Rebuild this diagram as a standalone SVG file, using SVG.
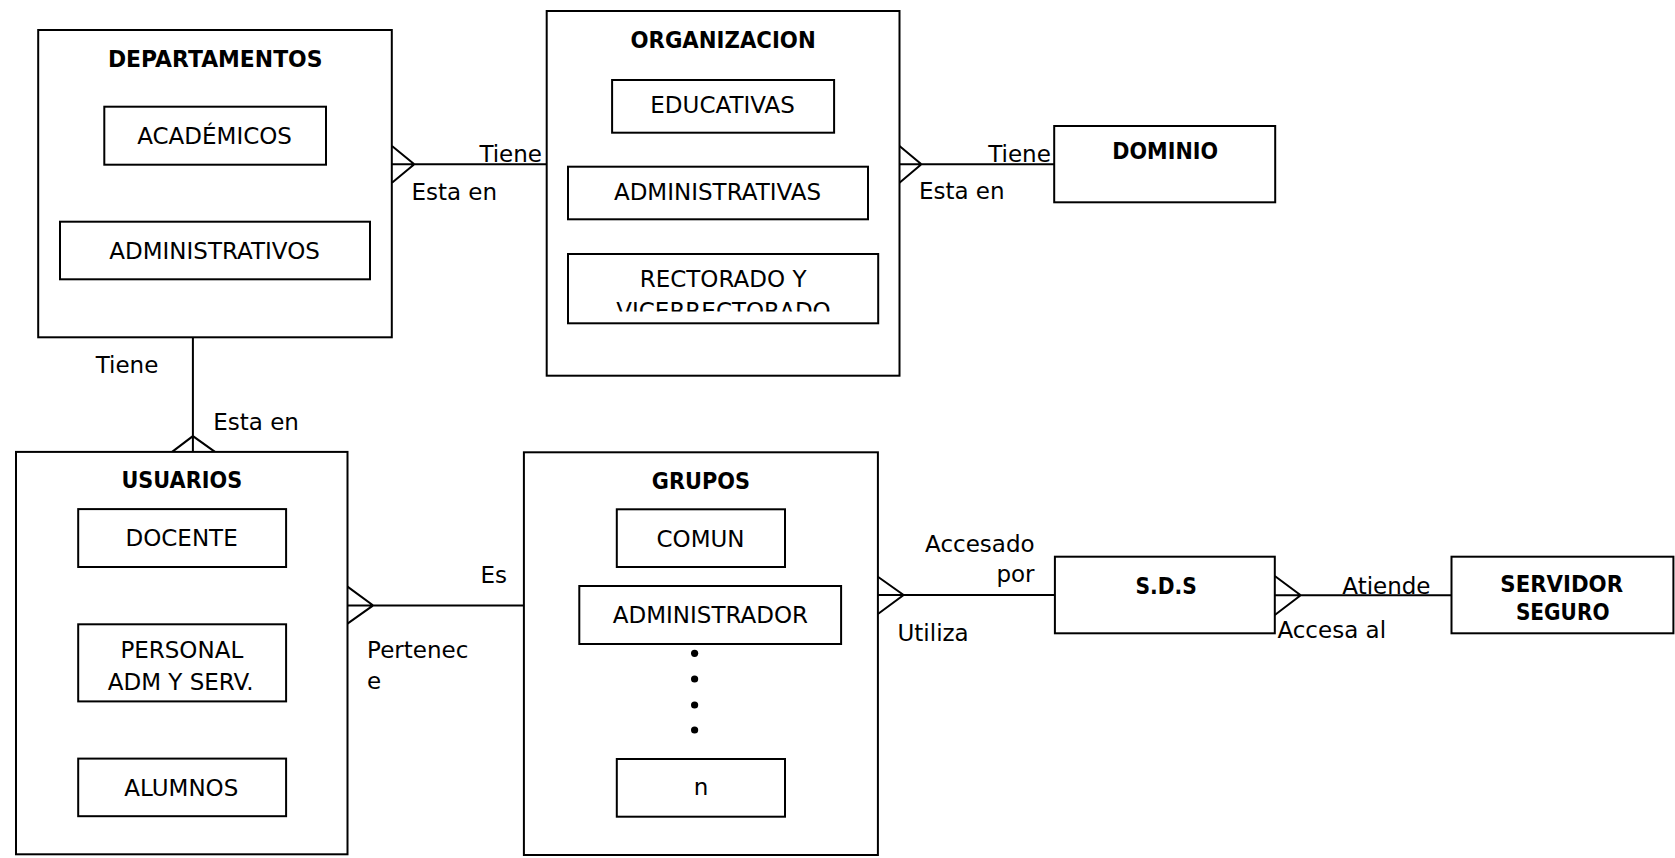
<svg xmlns="http://www.w3.org/2000/svg" width="1675" height="858" viewBox="0 0 1675 858">
  <style>
    .box{fill:#fff;stroke:#000;stroke-width:2}
    .ln{fill:none;stroke:#000;stroke-width:2}
    text{font-family:"DejaVu Sans","Liberation Sans",sans-serif;font-size:23px;fill:#000}
    .t{font-weight:bold;text-anchor:middle}
    .c{text-anchor:middle}
    .e{text-anchor:end}
  </style>
  <defs>
    <clipPath id="clipRect">
      <rect x="568" y="254" width="311" height="57.5"/>
    </clipPath>
  </defs>
  <rect width="1675" height="858" fill="#fff"/>

  <!-- relationships: lines, crow's feet and role labels -->
  <g id="connectors">
    <!-- DEPARTAMENTOS - ORGANIZACION -->
    <path class="ln" d="M392 164.3H546.7M392 146L414.3 164.3L392 182.7"/>
    <text class="e" x="542" y="161.7">Tiene</text>
    <text x="411.4" y="200">Esta en</text>
    <!-- ORGANIZACION - DOMINIO -->
    <path class="ln" d="M899.5 164.3H1054.2M899.5 146L921.4 164.3L899.5 182.7"/>
    <text class="e" x="1050.8" y="161.7">Tiene</text>
    <text x="918.9" y="199">Esta en</text>
    <!-- DEPARTAMENTOS - USUARIOS -->
    <path class="ln" d="M192.9 337.3V451.9M172.1 451.9L192.9 436.1L215 451.9"/>
    <text x="95.7" y="373.1">Tiene</text>
    <text x="213.2" y="430">Esta en</text>
    <!-- USUARIOS - GRUPOS -->
    <path class="ln" d="M347.5 605.4H523.9M347.5 586.6L373.2 605.4L347.5 623.6"/>
    <text x="480.4" y="582.5">Es</text>
    <text x="367.1" y="658.3">Pertenec</text>
    <text x="367.1" y="688.6">e</text>
    <!-- GRUPOS - S.D.S -->
    <path class="ln" d="M877.9 595H1054.9M877.9 576.7L903.6 595L877.9 614"/>
    <text class="e" x="1034.6" y="551.7">Accesado</text>
    <text class="e" x="1034.6" y="581.7">por</text>
    <text x="897.5" y="640.7">Utiliza</text>
    <!-- S.D.S - SERVIDOR SEGURO -->
    <path class="ln" d="M1274.8 595.3H1451.5M1274.8 576L1300.7 595.3L1274.8 615"/>
    <text x="1342.3" y="594">Atiende</text>
    <text x="1277.4" y="638.3">Accesa al</text>
  </g>

  <g id="departamentos">
    <rect class="box" x="38.2" y="30" width="353.6" height="307.3"/>
    <text class="t" x="215.2" y="66.7" textLength="214.6" lengthAdjust="spacingAndGlyphs">DEPARTAMENTOS</text>
    <rect class="box" x="104.3" y="106.7" width="221.7" height="58"/>
    <text class="c" x="214.6" y="144">ACADÉMICOS</text>
    <rect class="box" x="60" y="221.7" width="310" height="57.6"/>
    <text class="c" x="214.6" y="258.7">ADMINISTRATIVOS</text>
  </g>

  <g id="organizacion">
    <rect class="box" x="546.7" y="11" width="352.8" height="364.7"/>
    <text class="t" x="723.1" y="48.3" textLength="185.2" lengthAdjust="spacingAndGlyphs">ORGANIZACION</text>
    <rect class="box" x="612.1" y="80" width="222" height="52.7"/>
    <text class="c" x="722.6" y="113.3">EDUCATIVAS</text>
    <rect class="box" x="568" y="166.7" width="300" height="52.6"/>
    <text class="c" x="717.5" y="200">ADMINISTRATIVAS</text>
    <rect class="box" x="568" y="254" width="310.2" height="69.3"/>
    <g clip-path="url(#clipRect)">
      <text class="c" x="723.1" y="287.3">RECTORADO Y</text>
      <text class="c" x="723.5" y="318.6">VICERRECTORADO</text>
    </g>
  </g>

  <g id="dominio">
    <rect class="box" x="1054.2" y="126" width="221" height="76.3"/>
    <text class="t" x="1165.2" y="159.3" textLength="105.7" lengthAdjust="spacingAndGlyphs">DOMINIO</text>
  </g>

  <g id="usuarios">
    <rect class="box" x="16" y="451.9" width="331.5" height="402.4"/>
    <text class="t" x="181.8" y="488.2" textLength="120.7" lengthAdjust="spacingAndGlyphs">USUARIOS</text>
    <rect class="box" x="78.2" y="509.1" width="207.9" height="57.9"/>
    <text class="c" x="181.6" y="545.5">DOCENTE</text>
    <rect class="box" x="78.2" y="624.3" width="207.9" height="77.1"/>
    <text class="c" x="181.8" y="658.3">PERSONAL</text>
    <text class="c" x="180.7" y="689.6">ADM Y SERV.</text>
    <rect class="box" x="78.2" y="758.6" width="207.9" height="57.6"/>
    <text class="c" x="181.3" y="795.6">ALUMNOS</text>
  </g>

  <g id="grupos">
    <rect class="box" x="523.9" y="452.3" width="354" height="402.7"/>
    <text class="t" x="700.9" y="489.3" textLength="98.2" lengthAdjust="spacingAndGlyphs">GRUPOS</text>
    <rect class="box" x="616.8" y="509.3" width="168.2" height="57.7"/>
    <text class="c" x="700.5" y="546.7">COMUN</text>
    <rect class="box" x="579.3" y="586" width="261.8" height="58"/>
    <text class="c" x="710.4" y="623.3">ADMINISTRADOR</text>
    <circle cx="694.6" cy="653.3" r="3.6"/>
    <circle cx="694.6" cy="679" r="3.6"/>
    <circle cx="694.6" cy="705" r="3.6"/>
    <circle cx="694.6" cy="730" r="3.6"/>
    <rect class="box" x="616.8" y="759" width="168.2" height="57.7"/>
    <text class="c" x="701" y="795">n</text>
  </g>

  <g id="sds">
    <rect class="box" x="1054.9" y="556.7" width="219.9" height="76.6"/>
    <text class="t" x="1166.2" y="594" textLength="61.3" lengthAdjust="spacingAndGlyphs">S.D.S</text>
  </g>

  <g id="servidor-seguro">
    <rect class="box" x="1451.5" y="556.7" width="221.9" height="76.6"/>
    <text class="t" x="1561.7" y="591.7" textLength="122.7" lengthAdjust="spacingAndGlyphs">SERVIDOR</text>
    <text class="t" x="1562.7" y="620" textLength="93.6" lengthAdjust="spacingAndGlyphs">SEGURO</text>
  </g>
</svg>
